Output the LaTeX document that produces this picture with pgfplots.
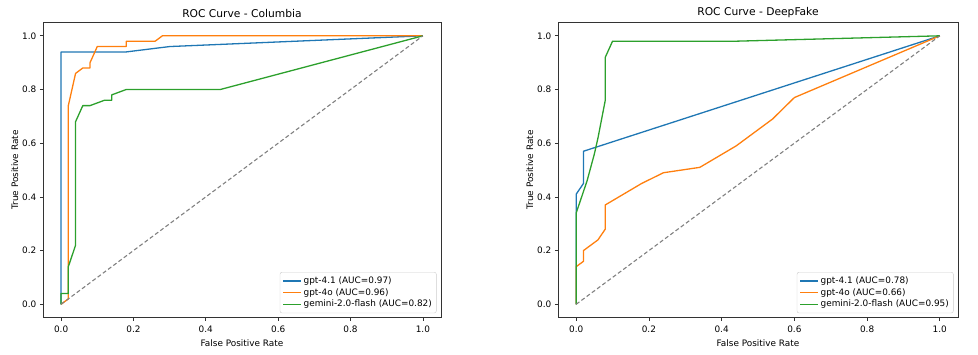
\documentclass[border=0pt]{standalone}
\usepackage{pgfplots}
\pgfplotsset{compat=1.18}
\usepackage{fontspec}
\setmainfont{DejaVu Sans}

\definecolor{tabblue}{HTML}{1F77B4}
\definecolor{taborange}{HTML}{FF7F0E}
\definecolor{tabgreen}{HTML}{2CA02C}

\pgfplotsset{
  rocax/.style={
    scale only axis,
    width=398pt, height=295.3pt,
    xmin=-0.05, xmax=1.05, ymin=-0.05, ymax=1.05,
    xtick={0,0.2,0.4,0.6,0.8,1.0},
    ytick={0,0.2,0.4,0.6,0.8,1.0},
    xtick pos=bottom, ytick pos=left,
    tick align=outside,
    major tick length=3.1pt,
    axis line style={line width=0.7pt, black!80},
    tick style={line width=0.7pt, black!80},
    every tick label/.append style={font=\fontsize{8.9}{10}\selectfont},
    xticklabel style={yshift=-1.5pt},
    label style={font=\fontsize{8.9}{10}\selectfont},
    title style={font=\fontsize{10.7}{12}\selectfont, yshift=-5pt},
    /pgf/number format/fixed,
    /pgf/number format/fixed zerofill,
    /pgf/number format/precision=1,
    /pgf/number format/assume math mode=true,
    xlabel={False Positive Rate},
    ylabel={True Positive Rate},
    xlabel style={yshift=0pt},
    ylabel style={yshift=-3pt},
    legend cell align=left,
    legend style={at={(1,0)}, anchor=south east, xshift=-4.5pt, yshift=4.5pt,
      font=\fontsize{8.9}{10}\selectfont, draw=black!20, rounded corners=2pt,
      fill=white, inner sep=2.5pt, row sep=-0.5pt},
    every axis plot/.append style={line width=1.3pt, line join=round},
  }
}

\begin{document}
\begin{tikzpicture}
\useasboundingbox (-43pt,-37.3pt) rectangle (935pt,317.7pt);

% left panel
\begin{axis}[rocax, title={ROC Curve - Columbia}]
\addplot[tabblue, legend image code/.code={\draw[tabblue, line width=1.3pt] (0pt,0pt) -- (17.8pt,0pt);}] coordinates {
  (0,0) (0,0.94) (0.18,0.94) (0.30,0.96) (1,1)
};
\addlegendentry{gpt-4.1 (AUC=0.97)}
\addplot[taborange, legend image code/.code={\draw[taborange, line width=1.3pt] (0pt,0pt) -- (17.8pt,0pt);}] coordinates {
  (0,0) (0.02,0.02) (0.02,0.74) (0.04,0.86) (0.06,0.88) (0.08,0.88)
  (0.08,0.90) (0.10,0.96) (0.18,0.96) (0.18,0.98) (0.26,0.98) (0.28,1.0) (1,1)
};
\addlegendentry{gpt-4o (AUC=0.96)}
\addplot[tabgreen, legend image code/.code={\draw[tabgreen, line width=1.3pt] (0pt,0pt) -- (17.8pt,0pt);}] coordinates {
  (0,0) (0,0.04) (0.02,0.04) (0.02,0.14) (0.04,0.22) (0.04,0.68) (0.06,0.74)
  (0.08,0.74) (0.12,0.76) (0.14,0.76) (0.14,0.78) (0.18,0.80) (0.44,0.80) (1,1)
};
\addlegendentry{gemini-2.0-flash (AUC=0.82)}
\addplot[gray, line width=1.1pt, dash pattern=on 4pt off 2.5pt, forget plot] coordinates {(0,0) (1,1)};
\end{axis}

% right panel
\begin{axis}[rocax, xshift=515pt, width=400pt, title={ROC Curve - DeepFake}]
\addplot[tabblue, legend image code/.code={\draw[tabblue, line width=1.3pt] (0pt,0pt) -- (17.8pt,0pt);}] coordinates {
  (0,0) (0,0.41) (0.02,0.45) (0.02,0.57) (1,1)
};
\addlegendentry{gpt-4.1 (AUC=0.78)}
\addplot[taborange, legend image code/.code={\draw[taborange, line width=1.3pt] (0pt,0pt) -- (17.8pt,0pt);}] coordinates {
  (0,0) (0,0.14) (0.02,0.16) (0.02,0.20) (0.06,0.24) (0.08,0.28) (0.08,0.37)
  (0.18,0.45) (0.24,0.49) (0.34,0.51) (0.44,0.59) (0.54,0.69) (0.60,0.77) (1,1)
};
\addlegendentry{gpt-4o (AUC=0.66)}
\addplot[tabgreen, legend image code/.code={\draw[tabgreen, line width=1.3pt] (0pt,0pt) -- (17.8pt,0pt);}] coordinates {
  (0,0) (0,0.34) (0.01,0.38) (0.02,0.42) (0.03,0.46) (0.04,0.51) (0.05,0.56)
  (0.06,0.62) (0.07,0.69) (0.08,0.76) (0.08,0.92) (0.10,0.98) (0.44,0.98) (1,1)
};
\addlegendentry{gemini-2.0-flash (AUC=0.95)}
\addplot[gray, line width=1.1pt, dash pattern=on 4pt off 2.5pt, forget plot] coordinates {(0,0) (1,1)};
\end{axis}
\end{tikzpicture}
\end{document}
